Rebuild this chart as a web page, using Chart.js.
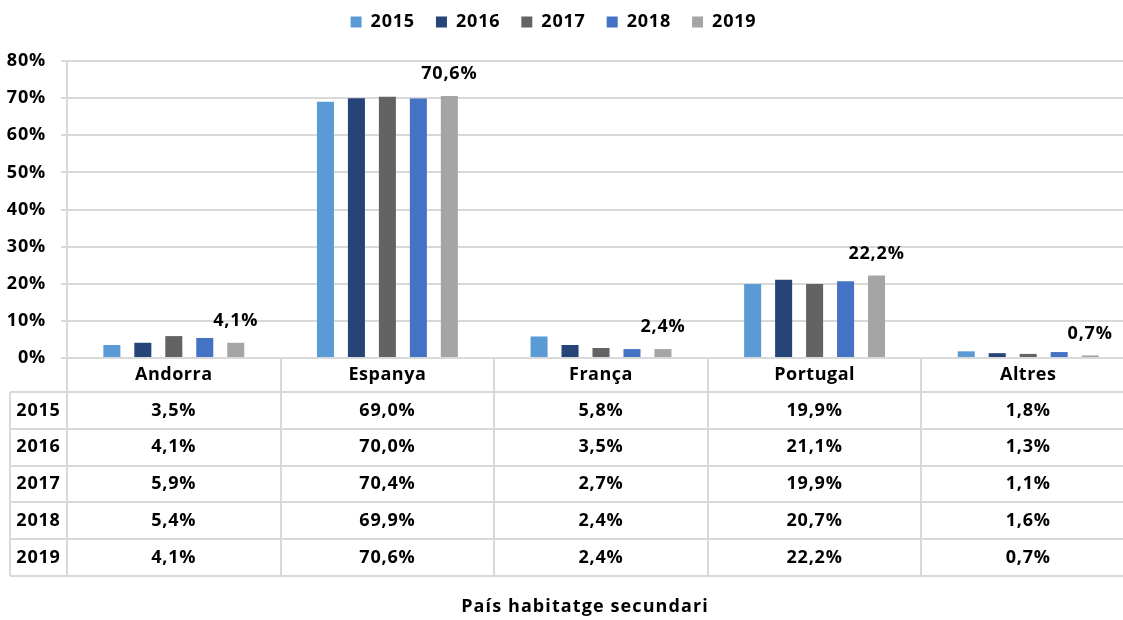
<!DOCTYPE html>
<html>
<head>
<meta charset="utf-8">
<script src="https://cdn.jsdelivr.net/npm/chart.js@4/dist/chart.umd.min.js"></script>
<style>
  html, body { margin: 0; padding: 0; background: #fff; overflow: hidden; }
  #wrap { width: 1137px; height: 620px; position: relative; }
</style>
</head>
<body>
<div id="wrap"><canvas id="chart"></canvas></div>
<script>
// chart data
const countries = ['Andorra', 'Espanya', 'França', 'Portugal', 'Altres'];
const years = ['2015', '2016', '2017', '2018', '2019'];
const v2015 = [3.5, 69.0, 5.8, 19.9, 1.8];
const v2016 = [4.1, 70.0, 3.5, 21.1, 1.3];
const v2017 = [5.9, 70.4, 2.7, 19.9, 1.1];
const v2018 = [5.4, 69.9, 2.4, 20.7, 1.6];
const v2019 = [4.1, 70.6, 2.4, 22.2, 0.7];
const yTicks = [0, 10, 20, 30, 40, 50, 60, 70, 80];
const axisTitle = 'País habitatge secundari';

const series = [v2015, v2016, v2017, v2018, v2019];
const colors = ['#5B9BD5', '#264478', '#636363', '#4472C4', '#A5A5A5'];
const FONT = '"Open Sans", Lato, sans-serif';
const GRID = '#d9d9d9';
const SPACING = '0.8px';

const fmt = v => v.toFixed(1).replace('.', ',') + '%';

// wider letter spacing, like the original rendering
const spacing = {
  id: 'spacing',
  beforeLayout(chart) { chart.ctx.letterSpacing = SPACING; },
  beforeDraw(chart) { chart.ctx.letterSpacing = SPACING; }
};

// more room under the legend, and nudge it a bit left
const legendSpace = {
  id: 'legendSpace',
  beforeLayout(chart) {
    const lg = chart.legend;
    if (lg && !lg._patched) {
      const fit = lg.fit;
      lg.fit = function () { fit.call(this); this.height += 20; };
      lg._patched = true;
    }
  },
  afterLayout(chart) {
    if (chart.legend) chart.legend.right -= 28;
  }
};

// value labels on the last series only
const lastLabels = {
  id: 'lastLabels',
  afterDatasetsDraw(chart) {
    const ctx = chart.ctx;
    const meta = chart.getDatasetMeta(series.length - 1);
    ctx.save();
    ctx.font = 'bold 18px ' + FONT;
    ctx.fillStyle = '#000';
    ctx.textAlign = 'center';
    ctx.textBaseline = 'middle';
    meta.data.forEach((bar, i) => {
      ctx.fillText(fmt(v2019[i]), bar.x, bar.y - 22);
    });
    ctx.restore();
  }
};

// data table under the plot
const dataTable = {
  id: 'dataTable',
  afterDraw(chart) {
    const ctx = chart.ctx;
    const area = chart.chartArea;
    const xs = chart.scales.x;
    const top = area.bottom;
    const headH = 34;
    const rowH = 36.8;
    const leftCol = 10;
    const colW = (area.right - area.left) / countries.length;
    const bottom = top + headH + rowH * years.length;

    ctx.save();
    ctx.strokeStyle = GRID;
    ctx.lineWidth = 2;
    ctx.beginPath();
    ctx.moveTo(area.left, top); ctx.lineTo(area.right, top);
    for (let r = 0; r <= years.length; r++) {
      const y = Math.round(top + headH + rowH * r);
      ctx.moveTo(leftCol, y); ctx.lineTo(area.right, y);
    }
    ctx.moveTo(leftCol, top + headH); ctx.lineTo(leftCol, bottom);
    ctx.moveTo(area.left, area.top); ctx.lineTo(area.left, bottom);
    for (let c = 1; c <= countries.length; c++) {
      const x = Math.round(area.left + colW * c);
      ctx.moveTo(x, top); ctx.lineTo(x, bottom);
    }
    ctx.stroke();

    ctx.fillStyle = '#000';
    ctx.textAlign = 'center';
    ctx.textBaseline = 'middle';
    ctx.font = 'bold 18px ' + FONT;
    ctx.letterSpacing = '0.5px';
    countries.forEach((c, i) => {
      ctx.fillText(c, xs.getPixelForValue(i), top + headH / 2);
    });
    ctx.letterSpacing = SPACING;
    years.forEach((yr, r) => {
      const y = top + headH + rowH * (r + 0.5);
      ctx.fillText(yr, (leftCol + area.left) / 2, y);
      series[r].forEach((v, i) => {
        ctx.fillText(fmt(v), xs.getPixelForValue(i), y);
      });
    });
    ctx.letterSpacing = '1.1px';
    ctx.fillText(axisTitle, 585, 607);
    ctx.restore();
  }
};

new Chart(document.getElementById('chart'), {
  type: 'bar',
  data: {
    labels: countries,
    datasets: years.map((yr, i) => ({
      label: yr,
      data: series[i],
      backgroundColor: colors[i],
      categoryPercentage: 0.725,
      barPercentage: 0.55
    }))
  },
  options: {
    responsive: true,
    maintainAspectRatio: false,
    animation: false,
    layout: { padding: { top: -8, left: 0, right: 2, bottom: 0 } },
    plugins: {
      legend: {
        position: 'top',
        labels: {
          boxWidth: 11, boxHeight: 11, padding: 21,
          color: '#000',
          font: { family: FONT, size: 18, weight: 'bold' }
        }
      },
      tooltip: { enabled: false }
    },
    scales: {
      x: {
        ticks: { display: false },
        grid: { display: false },
        border: { display: false },
        afterFit: s => { s.height = 262; }
      },
      y: {
        min: 0, max: 80,
        afterBuildTicks: s => { s.ticks = yTicks.map(v => ({ value: v })); },
        afterFit: s => { s.width = 67; },
        ticks: {
          padding: 15,
          color: '#000',
          font: { family: FONT, size: 18, weight: 'bold' },
          callback: v => v + '%'
        },
        grid: { color: GRID, lineWidth: 2, tickLength: 6 },
        border: { display: false }
      }
    }
  },
  plugins: [spacing, legendSpace, lastLabels, dataTable]
});
</script>
</body>
</html>
